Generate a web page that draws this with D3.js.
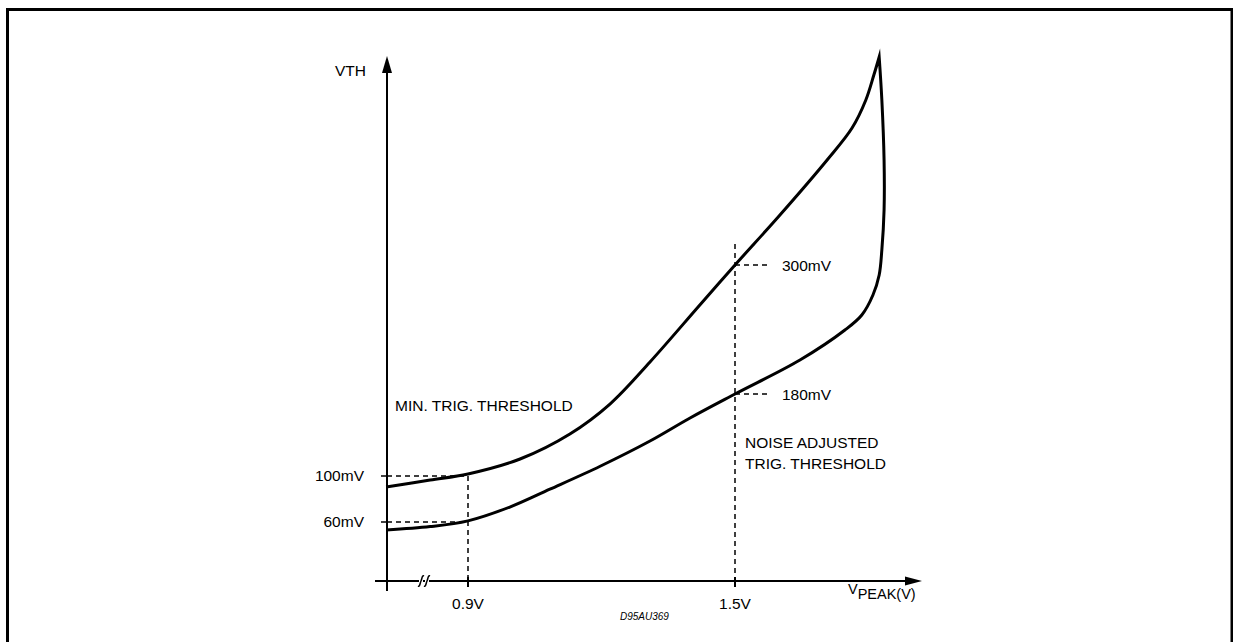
<!DOCTYPE html>
<html><head><meta charset="utf-8">
<script src="https://cdn.jsdelivr.net/npm/d3@7"></script>
<style>html,body{margin:0;padding:0;background:#fff;}svg{display:block;}</style>
</head><body>
<svg id="c" width="1233" height="642"></svg>
<script>
// ---- data ----
// Upper branch: MIN. TRIG. THRESHOLD (V peak in V, threshold in mV)
const upperV  = [0.716, 0.815, 0.9, 1.017, 1.129, 1.219, 1.309, 1.421, 1.5, 1.601, 1.707, 1.763, 1.794, 1.812, 1.824];
const upperMV = [90.4, 96.5, 102, 116.6, 141, 170.2, 209.8, 262.8, 300, 346.5, 397.7, 427.4, 453.5, 476.7, 493.5];
// Return branch: NOISE ADJUSTED TRIG. THRESHOLD (from peak back to left)
const lowerV  = [1.824, 1.830, 1.835, 1.835, 1.830, 1.824, 1.810, 1.785, 1.747, 1.646, 1.5, 1.399, 1.309, 1.197, 1.084, 0.994, 0.9, 0.815, 0.716];
const lowerMV = [493.5, 453.5, 397.7, 351.2, 314, 290.7, 272.1, 253.5, 239.5, 211.6, 180, 156.6, 134.1, 109.5, 88.5, 73, 61, 56, 53];
const xTicks = [0.9, 1.5];
const xTickLabels = ["0.9V", "1.5V"];
const yTicks = [60, 100];
const yTickLabels = ["60mV", "100mV"];
const markV = 1.5;
const markMV = [300, 180];
const markLabels = ["300mV", "180mV"];

// ---- scales ----
const x = d3.scaleLinear().domain([0.9, 1.5]).range([468, 735]);
const y = d3.scaleLinear().domain([60, 100, 180, 300]).range([522, 476, 394, 265]);
const xOrigin = 387, yOrigin = 581;

const svg = d3.select("#c");
const font = "'Liberation Sans', Arial, sans-serif";

// frame
svg.append("rect").attr("x", 7.5).attr("y", 9.5).attr("width", 1224.5).attr("height", 700)
  .attr("fill", "none").attr("stroke", "#000").attr("stroke-width", 3);

// axes
svg.append("line").attr("x1", xOrigin).attr("x2", xOrigin).attr("y1", 591).attr("y2", 70)
  .attr("stroke", "#000").attr("stroke-width", 2);
svg.append("path").attr("d", `M${xOrigin},56 L${xOrigin-5},73 L${xOrigin+5},73 Z`).attr("fill", "#000");
svg.append("line").attr("x1", 375).attr("x2", 910).attr("y1", yOrigin).attr("y2", yOrigin)
  .attr("stroke", "#000").attr("stroke-width", 2);
svg.append("path").attr("d", `M922,${yOrigin} L905,${yOrigin-4.5} L905,${yOrigin+4.5} Z`).attr("fill", "#000");

// axis break marks
[421, 427].forEach(bx => {
  svg.append("rect").attr("x", bx - 2).attr("y", yOrigin - 2).attr("width", 4).attr("height", 4).attr("fill", "#fff");
  svg.append("path").attr("d", `M${bx-3},${yOrigin+5} C${bx-1},${yOrigin+6} ${bx-1},${yOrigin+2} ${bx},${yOrigin} S${bx+1},${yOrigin-6} ${bx+3},${yOrigin-5}`)
    .attr("fill", "none").attr("stroke", "#000").attr("stroke-width", 1.5);
});

const dash = "5,4";
// x ticks
xTicks.forEach((v, i) => {
  svg.append("line").attr("x1", x(v)).attr("x2", x(v)).attr("y1", yOrigin - 4).attr("y2", yOrigin + 6)
    .attr("stroke", "#000").attr("stroke-width", 2);
  svg.append("text").attr("x", x(v)).attr("y", 609).attr("text-anchor", "middle")
    .attr("font-family", font).attr("font-size", 15.5).text(xTickLabels[i]);
});
// y ticks
yTicks.forEach((v, i) => {
  svg.append("line").attr("x1", xOrigin - 6).attr("x2", xOrigin).attr("y1", y(v)).attr("y2", y(v))
    .attr("stroke", "#000").attr("stroke-width", 1.5);
  svg.append("text").attr("x", 364).attr("y", y(v) + 5).attr("text-anchor", "end")
    .attr("font-family", font).attr("font-size", 15.5).text(yTickLabels[i]);
});

// dashed guides at 0.9V
svg.append("line").attr("x1", x(0.9)).attr("x2", x(0.9)).attr("y1", y(100)).attr("y2", yOrigin)
  .attr("stroke", "#000").attr("stroke-width", 1.5).attr("stroke-dasharray", dash);
yTicks.forEach(v => {
  svg.append("line").attr("x1", xOrigin).attr("x2", x(0.9)).attr("y1", y(v)).attr("y2", y(v))
    .attr("stroke", "#000").attr("stroke-width", 1.5).attr("stroke-dasharray", dash);
});
// dashed guides at 1.5V
svg.append("line").attr("x1", x(markV)).attr("x2", x(markV)).attr("y1", 244).attr("y2", yOrigin)
  .attr("stroke", "#000").attr("stroke-width", 1.5).attr("stroke-dasharray", dash);
markMV.forEach((v, i) => {
  svg.append("line").attr("x1", x(markV)).attr("x2", x(markV) + 36).attr("y1", y(v)).attr("y2", y(v))
    .attr("stroke", "#000").attr("stroke-width", 1.5).attr("stroke-dasharray", dash);
  svg.append("text").attr("x", 782).attr("y", y(v) + 6)
    .attr("font-family", font).attr("font-size", 15.5).text(markLabels[i]);
});

// curve
const line = d3.line().x(d => x(d[0])).y(d => y(d[1])).curve(d3.curveCatmullRom.alpha(0.5));
const up = upperV.map((v, i) => [v, upperMV[i]]);
const lo = lowerV.map((v, i) => [v, lowerMV[i]]);
const p1 = line(up);
const p2 = line(lo).replace(/^M[-\d.,e]+/, "");
svg.append("path").attr("d", p1 + p2).attr("fill", "none").attr("stroke", "#000")
  .attr("stroke-width", 3).attr("stroke-linejoin", "miter").attr("stroke-miterlimit", 20);

// labels
const t = (tx, ty, s, size, extra) => {
  const el = svg.append("text").attr("x", tx).attr("y", ty).attr("font-family", font)
    .attr("font-size", size || 15.5).text(s);
  if (extra) extra(el);
  return el;
};
t(335, 76, "VTH");
t(395, 411, "MIN. TRIG. THRESHOLD");
t(745, 448, "NOISE ADJUSTED");
t(745, 469, "TRIG. THRESHOLD");
t(620, 620, "D95AU369", 10, el => el.attr("font-style", "italic"));
const vp = svg.append("text").attr("x", 848).attr("y", 599).attr("font-family", font).attr("font-size", 14.5);
vp.append("tspan").attr("dy", -5).text("V");
vp.append("tspan").attr("dy", 5).text("PEAK(V)");
</script>
</body></html>
